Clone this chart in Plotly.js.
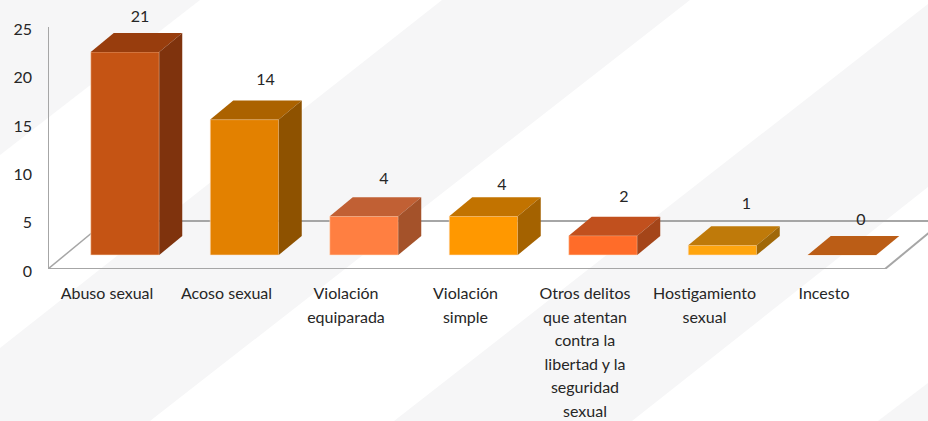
<!DOCTYPE html>
<html>
<head>
<meta charset="utf-8">
<script src="https://cdn.plot.ly/plotly-3.0.1.min.js"></script>
<style>html,body{margin:0;padding:0;background:#fff}#c{width:928px;height:421px}</style>
</head>
<body>
<div id="c"></div>
<script>
// Data
const categories = ["Abuso sexual","Acoso sexual","Violación equiparada","Violación simple","Otros delitos que atentan contra la libertad y la seguridad sexual","Hostigamiento sexual","Incesto"];
const tickLabels = ["Abuso sexual","Acoso sexual","Violación<br>equiparada","Violación<br>simple","Otros delitos<br>que atentan<br>contra la<br>libertad y la<br>seguridad<br>sexual","Hostigamiento<br>sexual","Incesto"];
const values = [21,14,4,4,2,1,0];
const yTicks = [0,5,10,15,20,25];

// Styles
const frontColors = ["#c55414","#e38100","#ff7f41","#ff9800","#ff6c29","#ffa50e","#bb5d16"];
const topColors   = ["#983d0d","#ab6200","#c16034","#c27300","#c1501e","#bf7a0a","#bb5d16"];
const sideColors  = ["#7f330d","#8e5200","#a4522a","#a46200","#a44519","#a06808","#a04f12"];
const labelNudgeX = [-5,1,0,-1.5,1,4,-1];
const labelGap = [14.5,19.5,17.5,11.5,18.5,21.5,15.5];

// Geometry of the pseudo-3D projection (px -> axis units)
const W=928,H=421,PITCH=119.5,PXY=9.67,X0=125,Y0=269,LEFT=48;
const ux=p=>(p-X0)/PITCH, uy=p=>(Y0-p)/PXY;
const barW=68.5/PITCH, depthX=23/PITCH, depthY=19/PXY, baseY=14/PXY;
const xs=values.map((_,i)=>i);

const traces=[{
  type:'bar',x:xs,y:values,base:values.map(()=>baseY),width:barW,
  marker:{color:frontColors,line:{color:'rgba(255,225,200,0.55)',width:1}},
  hoverinfo:'skip',showlegend:false
}];
values.forEach((v,i)=>{
  const l=i-barW/2,r=i+barW/2,b=baseY,t=baseY+v;
  traces.push({type:'scatter',mode:'lines',fill:'toself',fillcolor:topColors[i],line:{width:0,color:topColors[i]},
    x:[l,r,r+depthX,l+depthX,l],y:[t,t,t+depthY,t+depthY,t],hoverinfo:'skip',showlegend:false});
  if(v>0)traces.push({type:'scatter',mode:'lines',fill:'toself',fillcolor:sideColors[i],line:{width:0,color:sideColors[i]},
    x:[r,r,r+depthX,r+depthX,r],y:[b,t,t+depthY,b+depthY,b],hoverinfo:'skip',showlegend:false});
});
traces.push({type:'scatter',mode:'text',
  x:xs.map(i=>i+depthX*0.87+labelNudgeX[i]/PITCH),
  y:values.map((v,i)=>baseY+v+depthY+labelGap[i]/PXY),
  text:values.map(String),textposition:'middle center',
  textfont:{family:'Lato, sans-serif',size:16,color:'#262626'},hoverinfo:'skip',showlegend:false});

// Pale diagonal background bands (page pixels)
const bands=[
 [[0,0],[200,0],[0,155]],
 [[442,0],[690,0],[150,421],[0,421],[0,348]],
 [[928,4],[928,187],[632,421],[394,421]],
 [[928,383],[928,421],[878,421]]
];
const shapes=bands.map(p=>({type:'path',xref:'paper',yref:'paper',layer:'below',line:{width:0},fillcolor:'#f6f6f7',
  path:p.map((q,k)=>(k?'L':'M')+(q[0]/W)+','+(1-q[1]/H)).join(' ')+' Z'}));
const wall={color:'#a6a6a6',width:2};
const seg=(x0,y0,x1,y1,w)=>({type:'line',xref:'x',yref:'y',layer:'below',x0:ux(x0),y0:uy(y0),x1:ux(x1),y1:uy(y1),line:w||wall});
shapes.push(seg(48,269,48,27));
shapes.push(seg(48,269,885,269));
shapes.push(seg(48,269,105,222,{color:'#a6a6a6',width:1.5}));
shapes.push(seg(885,269,942,222));
shapes.push(seg(105,221,928,221));

const layout={
  width:W,height:H,margin:{l:0,r:0,t:0,b:0},paper_bgcolor:'#fff',plot_bgcolor:'rgba(0,0,0,0)',
  showlegend:false,hovermode:false,bargap:0,shapes,
  font:{family:'Lato, sans-serif',size:16,color:'#262626'},
  xaxis:{domain:[LEFT/W,1],range:[ux(LEFT),ux(W)],tickmode:'array',tickvals:xs.map(i=>i-18/PITCH),ticktext:tickLabels,
    showgrid:false,zeroline:false,showline:false,ticks:'',ticklabelstandoff:13,tickangle:0,automargin:false,
    tickfont:{family:'Lato, sans-serif',size:16,color:'#262626'}},
  yaxis:{domain:[(H-Y0)/H,1],range:[0,uy(0)],tickmode:'array',tickvals:yTicks,ticktext:yTicks.map(String),
    showgrid:false,zeroline:false,showline:false,ticks:'',ticklabelstandoff:15,ticklabelshift:2,automargin:false,
    tickfont:{family:'Lato, sans-serif',size:16,color:'#262626'}}
};
Plotly.newPlot('c',traces,layout,{displayModeBar:false,staticPlot:true}).then(()=>{
  // Source chart has a 23.5px line pitch in its multi-line category labels
  document.querySelectorAll('.xtick text tspan.line').forEach(t=>{
    const n=[...t.parentNode.querySelectorAll('tspan.line')].indexOf(t);
    t.setAttribute('dy',(n*23.5)+'px');
  });
});
</script>
</body>
</html>
